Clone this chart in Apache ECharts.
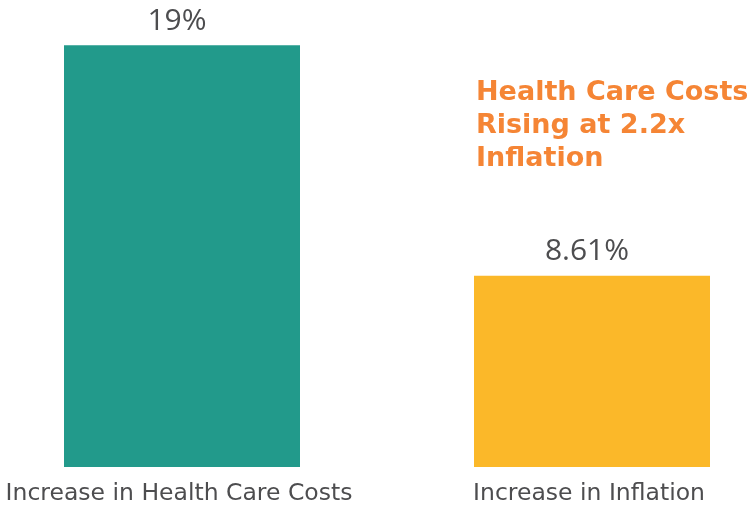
<!DOCTYPE html>
<html>
<head>
<meta charset="utf-8">
<script src="https://cdn.jsdelivr.net/npm/echarts@6/dist/echarts.min.js"></script>
<style>
  html, body { margin: 0; padding: 0; background: #fff; }
  #chart { width: 748px; height: 508px; }
</style>
</head>
<body>
<div id="chart"></div>
<script>
const categories = ['Increase in Health Care Costs', 'Increase in Inflation']
const values = [19, 8.61]
const valueLabels = ['19%', '8.61%']
const barColors = ['#229a8b', '#fbb829']
const headline = 'Health Care Costs\nRising at 2.2x\nInflation'

const chart = echarts.init(document.getElementById('chart'))

chart.setOption({
  animation: false,
  title: {
    text: headline,
    left: 471,
    top: 71,
    textStyle: {
      fontFamily: 'DejaVu Sans',
      fontWeight: 'bold',
      fontSize: 27,
      lineHeight: 33,
      color: '#f58535'
    }
  },
  grid: { left: 182, right: 156, top: 23, bottom: 41, containLabel: false },
  xAxis: {
    type: 'category',
    data: categories,
    boundaryGap: false,
    axisLine: { show: false },
    axisTick: { show: false },
    axisLabel: {
      margin: 15,
      fontFamily: 'DejaVu Sans',
      fontSize: 23.5,
      color: '#4d4d4f',
      interval: 0,
      // the reference labels sit a touch left of the bar centre
      padding: [0, 6, 0, 0]
    }
  },
  yAxis: {
    type: 'value',
    min: 0,
    max: 20,
    show: false,
    splitLine: { show: false }
  },
  series: [{
    type: 'bar',
    clip: false,
    barWidth: 236,
    data: values.map((v, i) => ({ value: v, itemStyle: { color: barColors[i] } })),
    label: {
      show: true,
      position: 'top',
      distance: 9,
      offset: [-5, 0],
      fontFamily: 'Open Sans',
      fontWeight: 500,
      fontSize: 30,
      color: '#4d4d4f',
      formatter: p => valueLabels[p.dataIndex]
    }
  }]
})
</script>
</body>
</html>
